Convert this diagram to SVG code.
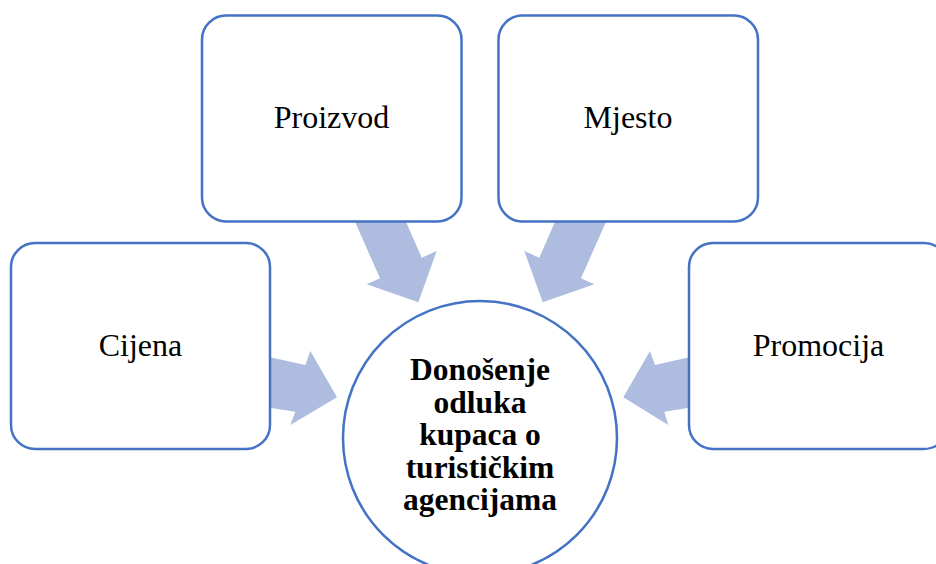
<svg xmlns="http://www.w3.org/2000/svg" width="936" height="564" viewBox="0 0 936 564">
  <style>
    .box { fill: #FFFFFF; stroke: #4472C4; stroke-width: 2.5; }
    .arrow { fill: #AEBCDF; stroke: none; }
    .lbl { font-family: "Liberation Serif", "Times New Roman", serif; font-size: 32px; fill: #000000; text-anchor: middle; }
    .center { font-family: "Liberation Serif", "Times New Roman", serif; font-size: 31.5px; font-weight: bold; fill: #000000; text-anchor: middle; }
  </style>
  <rect x="0" y="0" width="936" height="564" fill="#FFFFFF"/>
  <g id="connectors">
    <polygon class="arrow" points="352,215 403,215 421.7,257.7 436.7,251 418.3,302.3 366.7,284.3 380,278.3"/>
    <polygon class="arrow" points="609,215 558,215 539.3,257.7 524.3,251 542.7,302.3 594.3,284.3 581,278.3"/>
    <polygon class="arrow" points="262,355.5 305.3,365 310.3,351 337,397.3 290.3,425 295.3,411.7 262,406.5"/>
    <polygon class="arrow" points="697,355.5 655,365 650,351 623.3,397.3 668.3,425 664.3,411.7 697,406.5"/>
  </g>
  <g id="node-proizvod">
    <rect class="box" x="202" y="15.5" width="259.5" height="206" rx="24" ry="24"/>
    <text class="lbl" x="331.5" y="128">Proizvod</text>
  </g>
  <g id="node-mjesto">
    <rect class="box" x="498.5" y="15.5" width="259.5" height="206" rx="24" ry="24"/>
    <text class="lbl" x="628" y="128">Mjesto</text>
  </g>
  <g id="node-cijena">
    <rect class="box" x="11" y="243" width="259" height="206" rx="24" ry="24"/>
    <text class="lbl" x="140.5" y="356">Cijena</text>
  </g>
  <g id="node-promocija">
    <rect class="box" x="689" y="243" width="259" height="206" rx="24" ry="24"/>
    <text class="lbl" x="818.5" y="356">Promocija</text>
  </g>
  <g id="node-center">
    <circle class="box" cx="480" cy="438" r="137"/>
    <text class="center" x="480" y="380">Donošenje</text>
    <text class="center" x="480" y="412.5">odluka</text>
    <text class="center" x="480" y="445">kupaca o</text>
    <text class="center" x="480" y="477.5">turističkim</text>
    <text class="center" x="480" y="510">agencijama</text>
  </g>
</svg>
